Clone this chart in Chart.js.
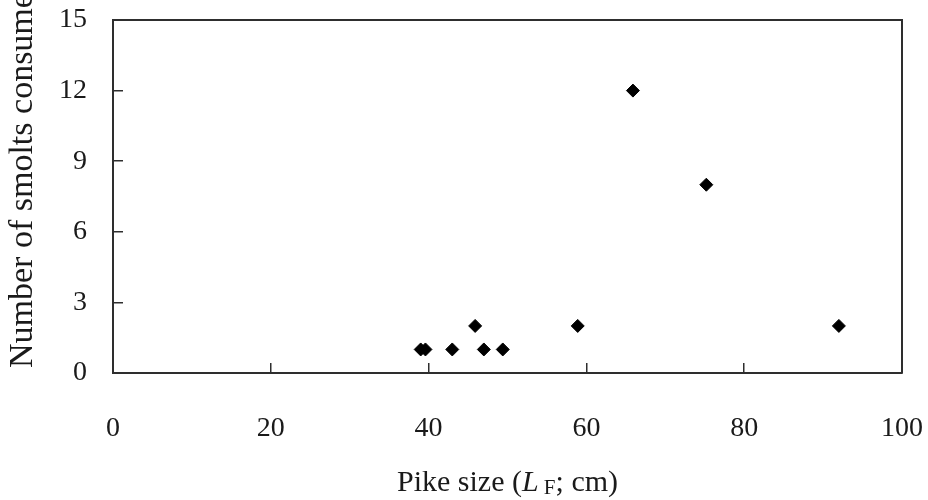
<!DOCTYPE html>
<html>
<head>
<meta charset="utf-8">
<script src="https://cdn.jsdelivr.net/npm/chart.js@4/dist/chart.umd.min.js"></script>
<style>
  html, body { margin: 0; padding: 0; background: #fff; }
  #wrap { width: 928px; height: 500px; }
</style>
</head>
<body>
<div id="wrap"><canvas id="chart"></canvas></div>
<script>
// pike fork length (cm) and smolts found in each stomach
const pikeLength = [39.0, 39.6, 43.0, 45.9, 47.0, 49.4, 58.9, 65.9, 75.2, 92.0]
const smoltsEaten = [1, 1, 1, 2, 1, 1, 2, 12, 8, 2]

const xTicks = [0, 20, 40, 60, 80, 100]
const yTicks = [0, 3, 6, 9, 12, 15]

const yTitle = 'Number of smolts consumed'

const serif = '"Liberation Serif", "Times New Roman", serif'
const ink = '#1a1a1a'
const axisColor = '#2e2e2e'

// box around the plot plus the axis titles (italic L with subscript F)
const frameAndTitles = {
  id: 'frameAndTitles',
  afterDraw(c) {
    const { ctx, chartArea: a } = c
    ctx.save()
    ctx.strokeStyle = axisColor
    ctx.lineWidth = 2
    ctx.beginPath()
    ctx.moveTo(a.left, a.top)
    ctx.lineTo(a.right, a.top)
    ctx.lineTo(a.right, a.bottom)
    ctx.stroke()

    ctx.fillStyle = ink
    ctx.textBaseline = 'alphabetic'

    // y title, running upward from the bottom of the plot
    ctx.save()
    ctx.translate(32, 368)
    ctx.rotate(-Math.PI / 2)
    ctx.font = '34px ' + serif
    ctx.textAlign = 'left'
    ctx.fillText(yTitle, 0, 0)
    ctx.restore()

    // x title in pieces
    const parts = [
      { t: 'Pike size (', f: '30px ' + serif, dy: 0 },
      { t: 'L', f: 'italic 30px ' + serif, dy: 0 },
      { t: ' F', f: '21px ' + serif, dy: 3 },
      { t: '; cm)', f: '30px ' + serif, dy: 0 }
    ]
    let total = 0
    parts.forEach(p => { ctx.font = p.f; p.w = ctx.measureText(p.t).width; total += p.w })
    let x = (a.left + a.right) / 2 - total / 2
    ctx.textAlign = 'left'
    parts.forEach(p => {
      ctx.font = p.f
      ctx.fillText(p.t, x, 491 + p.dy)
      x += p.w
    })
    ctx.restore()
  }
}

new Chart(document.getElementById('chart'), {
  type: 'scatter',
  data: {
    datasets: [{
      data: pikeLength.map((v, i) => ({ x: v, y: smoltsEaten[i] })),
      pointStyle: 'rectRot',
      pointRadius: 6.5,
      pointBorderWidth: 1,
      backgroundColor: '#000',
      borderColor: '#000'
    }]
  },
  options: {
    responsive: true,
    maintainAspectRatio: false,
    animation: false,
    layout: { padding: { left: 0, right: 26, top: 20, bottom: 0 } },
    plugins: {
      legend: { display: false },
      tooltip: { enabled: false }
    },
    scales: {
      x: {
        type: 'linear',
        min: 0,
        max: 100,
        afterBuildTicks: s => { s.ticks = xTicks.map(v => ({ value: v })) },
        afterFit: s => {
          s.height = 127
          s.paddingLeft = 0
          s.paddingRight = 0
        },
        grid: { drawOnChartArea: false, tickLength: -10, color: axisColor, lineWidth: 1.5 },
        border: { color: axisColor, width: 2 },
        ticks: { color: ink, font: { family: serif, size: 28 }, padding: 49, maxRotation: 0 }
      },
      y: {
        min: 0,
        max: 15,
        afterBuildTicks: s => { s.ticks = yTicks.map(v => ({ value: v })) },
        afterFit: s => {
          s.width = 113
          s.paddingTop = 0
          s.paddingBottom = 0
        },
        grid: { drawOnChartArea: false, tickLength: -10, color: axisColor, lineWidth: 1.5 },
        border: { color: axisColor, width: 2 },
        ticks: { color: ink, font: { family: serif, size: 28 }, padding: 36 }
      }
    }
  },
  plugins: [frameAndTitles]
})
</script>
</body>
</html>
